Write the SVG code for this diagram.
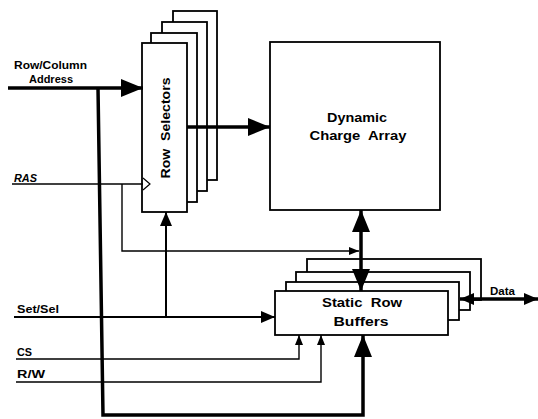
<svg xmlns="http://www.w3.org/2000/svg" width="538" height="419" viewBox="0 0 538 419">
<style>
.box{fill:#fff;stroke:#000;stroke-width:1.8}
.lbl{font-family:"Liberation Sans",Arial,sans-serif;font-weight:bold;font-size:10px;fill:#000}
.txt{font-family:"Liberation Sans",Arial,sans-serif;font-weight:bold;font-size:13px;fill:#000;white-space:pre}
.thick{fill:none;stroke:#000;stroke-width:3.5}
.med{fill:none;stroke:#000;stroke-width:2}
.thin{fill:none;stroke:#000;stroke-width:1.4}
</style>
<defs>
<marker id="big" markerUnits="userSpaceOnUse" markerWidth="22" markerHeight="18" refX="22" refY="9" orient="auto-start-reverse"><path d="M0,0 L22,9 L0,18 Z" fill="#000"/></marker>
<marker id="mid" markerUnits="userSpaceOnUse" markerWidth="14" markerHeight="12" refX="14" refY="6" orient="auto-start-reverse"><path d="M0,0 L14,6 L0,12 Z" fill="#000"/></marker>
<marker id="sm" markerUnits="userSpaceOnUse" markerWidth="10" markerHeight="8" refX="10" refY="4" orient="auto-start-reverse"><path d="M0,0 L10,4 L0,8 Z" fill="#000"/></marker>
</defs>
<rect width="538" height="419" fill="#fff"/>
<g id="row-selectors">
<rect class="box" x="173" y="11" width="44" height="169"/>
<rect class="box" x="162" y="22" width="45" height="169"/>
<rect class="box" x="151" y="33" width="46" height="169"/>
<rect class="box" x="142" y="43" width="45" height="169"/>
<text class="txt" transform="translate(170,128) rotate(-90)" text-anchor="middle" font-size="14" textLength="101" lengthAdjust="spacingAndGlyphs">Row  Selectors</text>
</g>
<g id="dynamic-charge-array">
<rect class="box" x="270" y="42" width="170" height="168"/>
<text class="txt" x="357" y="122" text-anchor="middle" textLength="60" lengthAdjust="spacingAndGlyphs">Dynamic</text>
<text class="txt" x="358" y="140" text-anchor="middle" textLength="97" lengthAdjust="spacingAndGlyphs">Charge  Array</text>
</g>
<g id="static-row-buffers">
<rect class="box" x="307" y="259" width="174" height="41"/>
<rect class="box" x="296" y="272" width="174" height="38"/>
<rect class="box" x="286" y="282" width="173" height="38"/>
<rect class="box" x="275" y="291" width="173" height="44"/>
<text class="txt" x="362" y="307" text-anchor="middle" textLength="80" lengthAdjust="spacingAndGlyphs">Static  Row</text>
<text class="txt" x="361" y="326" text-anchor="middle" textLength="55" lengthAdjust="spacingAndGlyphs">Buffers</text>
</g>
<g id="labels">
<text class="lbl" x="14" y="69" textLength="73" lengthAdjust="spacingAndGlyphs">Row/Column</text>
<text class="lbl" x="29" y="83" textLength="44" lengthAdjust="spacingAndGlyphs">Address</text>
<text class="lbl" x="14" y="182" font-style="italic" textLength="23" lengthAdjust="spacingAndGlyphs">RAS</text>
<text class="lbl" x="17" y="313" textLength="42" lengthAdjust="spacingAndGlyphs">Set/Sel</text>
<text class="lbl" x="17" y="356" textLength="15" lengthAdjust="spacingAndGlyphs">CS</text>
<text class="lbl" x="17" y="378" textLength="28" lengthAdjust="spacingAndGlyphs">R/W</text>
<text class="lbl" x="490" y="295" textLength="25" lengthAdjust="spacingAndGlyphs">Data</text>
</g>
<g id="connectors">
<path class="thick" d="M8,88 L143,88" marker-end="url(#big)"/>
<path class="thick" d="M98,88 L103,415 L363,415 L363,335" marker-end="url(#big)"/>
<path class="thick" d="M187,127 L270,127" marker-end="url(#big)"/>
<path class="thick" d="M361,210 L361,291" marker-start="url(#big)" marker-end="url(#big)"/>
<path class="thick" d="M460,299 L538,299" marker-start="url(#mid)" marker-end="url(#mid)"/>
<path class="thin" d="M12,184 L143,184"/>
<path fill="#fff" stroke="#000" stroke-width="1.2" d="M143,178 L150,184 L143,190"/>
<path class="thin" d="M122,184 L122,251 L359,251" marker-end="url(#sm)"/>
<path class="med" d="M14,317 L275,317" marker-end="url(#mid)"/>
<path class="med" d="M166,317 L166,212" marker-end="url(#mid)"/>
<path class="thin" d="M16,359 L299,359 L299,335" marker-end="url(#sm)"/>
<path class="thin" d="M16,382 L321,382 L321,335" marker-end="url(#sm)"/>
</g>
</svg>
